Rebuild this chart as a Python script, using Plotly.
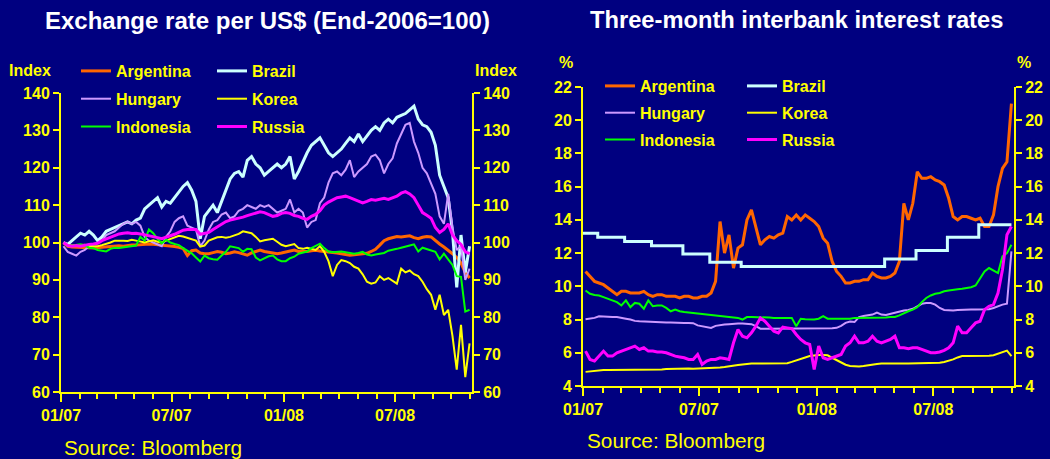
"""Exchange rates and interbank rates, 2007-2008 (navy slide theme)."""
import pandas as pd
import plotly.graph_objects as go

W, H = 1050, 459

COLORS = {
    "bg": "#000080",
    "axis": "#FFFF00",
    "title": "#FFFFFF",
    "Argentina": "#FF6600",
    "Brazil": "#CCFFFF",
    "Hungary": "#CC99FF",
    "Korea": "#FFFF00",
    "Indonesia": "#00FF00",
    "Russia": "#FF00FF",
}
WIDTHS = {"Argentina": 3, "Brazil": 3, "Hungary": 2, "Korea": 2, "Indonesia": 2, "Russia": 3}
FONT = "Liberation Sans, Arial, sans-serif"

# weekly observation dates (Fridays)
week_dates = pd.date_range("2007-01-05", periods=96, freq="7D")

# ---- exchange rate per US$, End-2006 = 100 ----
fx_argentina = [
    100, 99, 98.8, 98.8, 98.8, 98.7, 98.6, 98.5, 98.6, 98.8, 98.9, 99,
    99, 99.1, 99, 99.2, 99.3, 99.3, 99.4, 99.5, 99.6, 99.5,
    99.4, 99.2, 99.3, 99, 98.9, 98.7, 98.4, 96.5, 97.8, 98, 97.2, 97,
    97, 97.3, 97.6, 97.4, 97, 97.2, 97.5, 97.3, 97,
    96.6, 97.2, 97.6, 98, 97.6, 97.4, 97.2, 97, 97.2, 97.5, 97.8, 98, 97.6,
    97.5, 97.6, 97.8, 97.9, 97.7, 97.6, 97.5, 97.3, 97.2, 97, 96.8, 96.6, 96.7,
    96.8, 97, 97.1, 97.6, 98.2, 99.3, 100.5, 101, 101.4, 101.6, 101.5, 101.7, 101.8,
    101.3, 101, 101.4, 101.6, 101.5, 100.5, 99.6, 98.8, 98, 97, 96, 94.5, 92, 90.5,
]
fx_brazil = [
    100, 99.5, 100.5, 101.5, 102.5, 102, 103, 102, 100.5, 101.5, 103, 103.5,
    104, 104.5, 105, 105.5, 105, 106, 106.5, 109, 110, 111,
    112, 109.5, 111, 110.5, 112, 113.5, 115, 116, 114, 111, 101, 107,
    108.5, 110, 108, 111, 114, 117, 118.5, 119, 117.5,
    122, 123, 121, 120, 118, 119, 120, 121, 120, 121, 123, 117, 119,
    121.5, 124, 126, 127, 128, 126, 124, 123, 124, 125, 126.5, 128, 127,
    129, 127, 128.5, 130, 131, 130, 132, 133, 132, 133.5, 134, 134.5, 135.5,
    136.5, 133, 131.5, 131, 129.5, 126, 118, 115, 112, 103, 88, 102, 92, 99,
]
fx_hungary = [
    99, 97.5, 97, 96.5, 97.5, 98, 99, 99.5, 100, 100.5, 102, 102.5,
    103, 104, 105, 105.5, 105, 105.5, 104.5, 101.5, 100.5, 100,
    99.5, 99, 101.5, 103, 105.5, 106.5, 107, 104.5, 104, 103.5, 99, 100.5,
    103.5, 105.5, 106, 107.5, 108, 106.5, 107, 108.5, 109,
    110, 109.5, 109, 110, 109.5, 110, 109, 108, 108.5, 109, 111.5, 108, 109,
    108, 104, 105.5, 106, 110.5, 112, 116, 118.5, 119, 118, 119.5, 122, 117.5,
    119, 120, 121, 123, 123.5, 122, 118.5, 121, 122.5, 126.5, 129, 131.5, 132,
    127, 124, 120, 118.5, 115.5, 113, 107, 105, 113, 104, 98, 99, 90, 93,
]
fx_korea = [
    100, 99.3, 99.2, 99.3, 99.2, 99.4, 99, 98.9, 99, 99.3, 99.6, 100,
    100.5, 100.6, 100.5, 100.4, 100.7, 100.5, 100.2, 100, 100.3, 100.6,
    100.2, 100, 100.5, 101, 101.3, 101.8, 101.6, 101.2, 100.8, 100.5, 98.9, 99.2,
    100.5, 101, 101.4, 101.5, 101.3, 101.5, 101.8, 102.3, 103,
    102.8, 102.5, 101.5, 100.3, 100.6, 100.8, 101, 100.2, 99.4, 99, 99.3, 99.6, 98.5,
    98.3, 98.6, 98.2, 98, 99, 97.5, 95, 91, 94, 95.3, 95, 94.5, 93.5,
    93, 91.5, 89.5, 89, 89.3, 91, 90, 90.5, 89.8, 89, 93, 92, 92.5,
    91.5, 91, 89.5, 87.5, 86, 82, 86, 80.6, 82, 75, 66, 78, 64, 73,
]
fx_indonesia = [
    100, 99, 99.2, 99.4, 99.5, 99.2, 98.6, 98.5, 98, 97.8, 97.6, 98.3,
    98.6, 98.5, 98.7, 99, 99, 99.2, 101.5, 100.5, 103.5, 102.5,
    101, 99.8, 100.8, 100, 99.6, 99.3, 98.5, 97.8, 97.1, 96, 94.9, 96.5,
    95.8, 95.5, 95.4, 96.5, 97.5, 99, 98.7, 98.5, 97.5,
    98.3, 98.2, 96, 95.2, 95.8, 96.3, 96.5, 95.5, 95, 95, 95.8, 96.2, 97,
    97.3, 97.6, 98.5, 99, 99.7, 98.5, 97.6, 97.4, 97.5, 97.6, 97.4, 97.3, 97,
    97.2, 97.5, 96.8, 96.5, 96.8, 97, 97.2, 97.8, 98, 98.3, 98.6, 99, 99.2,
    99.5, 97.6, 98.6, 98.3, 98, 97.5, 95.5, 97, 95.5, 94, 91, 90.8, 81.5, 82,
]
fx_russia = [
    100, 99.2, 99, 99.2, 99, 99.3, 99.5, 99.6, 99.8, 100.5, 101, 101.5,
    102, 102.3, 102.5, 102.6, 102.4, 102.5, 102.3, 102, 101.8, 101.5,
    101.3, 101, 101.3, 101.8, 102.2, 102.8, 103.3, 103.5, 103.4, 103.5, 102.2, 102.4,
    102.7, 103.5, 104.2, 105, 105.6, 106, 106.2, 106.5, 106.8,
    107.2, 107.5, 107.8, 108.2, 108, 107.5, 107, 107.2, 107.8, 108, 107.8, 107.2, 107,
    106.5, 106.2, 107, 107.5, 108.5, 110, 110.8, 111.3, 112, 112.2, 112.4, 112, 111.5,
    111, 110.6, 111, 111.5, 111.3, 111.6, 111.8, 111.5, 112, 112.4, 113.2, 113.6, 113,
    112, 110, 108, 107.3, 106.5, 104, 102.7, 103.5, 105, 102, 100.5, 99.5, 97.5, 97,
]

# ---- three-month interbank rates, % ----
ir_argentina = [
    10.9, 10.6, 10.3, 10.2, 10.1, 9.9, 9.7, 9.5, 9.7, 9.7, 9.6, 9.6,
    9.6, 9.7, 9.5, 9.4, 9.5, 9.5, 9.4, 9.4, 9.4, 9.3,
    9.4, 9.4, 9.3, 9.3, 9.4, 9.4, 9.6, 10.3, 13.9, 12.0, 13.1, 11.1,
    12.3, 12.5, 14.0, 14.6, 13.6, 12.5, 12.8, 13.0, 12.9,
    13.1, 13.2, 14.2, 14.0, 14.3, 14.0, 14.3, 14.1, 13.9, 13.6, 12.9, 12.6, 11.5,
    10.9, 10.6, 10.2, 10.2, 10.3, 10.3, 10.4, 10.4, 10.8, 10.6, 10.5, 10.5, 10.6,
    10.8, 11.5, 15.0, 14.0, 15.0, 16.9, 16.5, 16.5, 16.6, 16.4, 16.3, 16.1, 15.3,
    14.2, 14.0, 14.2, 14.2, 14.1, 14.0, 14.1, 13.6, 13.6, 14.3, 16.0, 17.1, 17.5, 21.0,
]
# Brazil moves in steps at policy-meeting dates
ir_brazil_dates = [
    "2007-01-01", "2007-01-24", "2007-03-07", "2007-04-18", "2007-06-06",
    "2007-07-18", "2007-09-05", "2008-04-16", "2008-06-04", "2008-07-23",
    "2008-09-10", "2008-10-31",
]
ir_brazil = [13.2, 12.95, 12.7, 12.45, 11.95, 11.45, 11.2, 11.65, 12.15, 12.95, 13.7, 13.7]
ir_hungary = [
    8.02, 8.05, 8.1, 8.2, 8.17, 8.15, 8.15, 8.15, 8.12, 8.05, 8.0, 7.92,
    7.9, 7.88, 7.86, 7.85, 7.84, 7.84, 7.82, 7.82, 7.8, 7.8,
    7.8, 7.8, 7.78, 7.65, 7.6, 7.52, 7.5, 7.62, 7.68, 7.7, 7.72, 7.75,
    7.76, 7.76, 7.75, 7.72, 7.6, 7.45, 7.44, 7.44, 7.45,
    7.45, 7.46, 7.47, 7.48, 7.48, 7.48, 7.48, 7.48, 7.48, 7.48, 7.48, 7.48, 7.48,
    7.5, 7.62, 7.8, 7.88, 7.85, 8.15, 8.22, 8.25, 8.3, 8.42, 8.3, 8.28, 8.35,
    8.45, 8.5, 8.55, 8.58, 8.65, 8.8, 8.95, 9.0, 9.0, 8.9, 8.7, 8.58, 8.55,
    8.55, 8.58, 8.6, 8.6, 8.6, 8.6, 8.6, 8.62, 8.62, 8.7, 8.8, 8.9, 8.95, 12.1,
]
ir_korea = [
    4.85, 4.88, 4.92, 4.95, 4.96, 4.96, 4.96, 4.96, 4.96, 4.97, 4.97, 4.97,
    4.97, 4.97, 4.97, 4.98, 4.98, 5.0, 5.02, 5.03, 5.05, 5.05,
    5.05, 5.05, 5.04, 5.05, 5.05, 5.06, 5.06, 5.08, 5.12, 5.15, 5.2, 5.22,
    5.26, 5.3, 5.34, 5.35, 5.35, 5.35, 5.35, 5.35, 5.35,
    5.36, 5.36, 5.37, 5.45, 5.55, 5.65, 5.72, 5.8, 5.85, 5.87, 5.87, 5.85, 5.7,
    5.55, 5.4, 5.28, 5.2, 5.18, 5.18, 5.2, 5.25, 5.3, 5.33, 5.35, 5.36, 5.36,
    5.36, 5.36, 5.36, 5.36, 5.37, 5.37, 5.37, 5.38, 5.38, 5.38, 5.4, 5.45, 5.52,
    5.6, 5.72, 5.8, 5.8, 5.8, 5.8, 5.8, 5.8, 5.82, 5.85, 5.95, 6.05, 6.13, 5.8,
]
ir_indonesia = [
    9.75, 9.55, 9.48, 9.45, 9.35, 9.25, 9.15, 9.05, 8.85, 9.15, 8.75, 9.0,
    8.95, 8.65, 9.15, 8.8, 8.85, 8.85, 8.7, 8.5, 8.6, 8.5,
    8.45, 8.42, 8.38, 8.35, 8.3, 8.3, 8.25, 8.22, 8.2, 8.18, 8.15, 8.12,
    8.1, 8.0, 8.15, 8.15, 8.15, 8.15, 8.15, 8.12, 8.1,
    8.1, 8.1, 8.1, 8.1, 7.6, 8.05, 8.02, 8.0, 8.0, 8.05, 8.2, 8.05, 8.05,
    8.05, 8.05, 8.05, 8.05, 8.1, 8.1, 8.1, 8.1, 8.1, 8.1, 8.1, 8.12, 8.15,
    8.15, 8.25, 8.4, 8.5, 8.6, 8.75, 9.05, 9.3, 9.45, 9.55, 9.6, 9.7, 9.75,
    9.8, 9.82, 9.85, 9.9, 9.95, 10.05, 10.5, 10.9, 11.1, 10.95, 10.8, 11.8, 12.0, 12.5,
]
ir_russia = [
    6.1, 5.6, 5.5, 5.8, 6.1, 5.8, 5.8, 6.0, 6.1, 6.2, 6.3, 6.4,
    6.2, 6.3, 6.1, 6.1, 6.05, 6.05, 6.0, 5.9, 5.8, 5.75,
    5.7, 5.6, 5.6, 5.9, 5.3, 5.5, 5.6, 5.6, 5.7, 5.65, 5.6, 6.6,
    7.4, 7.0, 6.9, 7.2, 7.6, 8.1, 7.9, 7.6, 7.3,
    7.2, 7.55, 7.5, 7.45, 7.1, 6.8, 6.6, 6.5, 5.0, 6.4, 5.7, 5.6, 5.7,
    5.8, 5.9, 6.4, 6.6, 7.0, 6.6, 6.6, 6.7, 7.0, 6.7, 6.6, 6.7, 6.8,
    7.0, 6.3, 6.3, 6.25, 6.3, 6.3, 6.2, 6.1, 6.0, 6.0, 6.05, 6.15, 6.3,
    6.6, 7.6, 7.2, 7.2, 7.5, 7.8, 7.9, 8.6, 8.8, 8.9, 9.6, 11.0, 13.1, 13.6,
]

fx_series = {
    "Argentina": fx_argentina, "Brazil": fx_brazil, "Hungary": fx_hungary,
    "Korea": fx_korea, "Indonesia": fx_indonesia, "Russia": fx_russia,
}
ir_series = {
    "Argentina": (week_dates, ir_argentina),
    "Brazil": (pd.to_datetime(ir_brazil_dates), ir_brazil),
    "Hungary": (week_dates, ir_hungary),
    "Korea": (week_dates, ir_korea),
    "Indonesia": (week_dates, ir_indonesia),
    "Russia": (week_dates, ir_russia),
}
# legend columns: left column / right column
LEFT_COL = ["Argentina", "Hungary", "Indonesia"]


def px(x):
    return x / W


def py(y):
    return 1 - y / H


fig = go.Figure()

# the last series of each panel goes on the mirrored right axis so it gets drawn
for name, vals in fx_series.items():
    fig.add_trace(go.Scatter(
        x=week_dates, y=vals, name=name, mode="lines",
        line=dict(color=COLORS[name], width=WIDTHS[name]),
        xaxis="x", yaxis="y2" if name == "Russia" else "y",
        legend="legend" if name in LEFT_COL else "legend2",
        legendgroup="fx_" + name,
    ))

for name, (dates, vals) in ir_series.items():
    fig.add_trace(go.Scatter(
        x=dates, y=vals, name=name, mode="lines",
        line=dict(color=COLORS[name], width=WIDTHS[name],
                  shape="hv" if name == "Brazil" else "linear"),
        xaxis="x2", yaxis="y4" if name == "Russia" else "y3",
        legend="legend3" if name in LEFT_COL else "legend4",
        legendgroup="ir_" + name,
    ))

tickfont = dict(family=FONT, size=16, color=COLORS["axis"], weight="bold")
x_common = dict(
    type="date", range=["2007-01-01", "2008-11-04"],
    tick0="2007-01-01", dtick="M6", tickformat="%m/%y",
    showline=True, linecolor=COLORS["axis"], linewidth=2,
    ticks="outside", ticklen=8, tickwidth=2, tickcolor=COLORS["axis"],
    tickfont=tickfont, showgrid=False, zeroline=False, automargin=False,
    minor=dict(dtick="M1", ticks="outside", ticklen=5, tickwidth=2,
               tickcolor=COLORS["axis"], showgrid=False),
)
y_common = dict(
    showline=True, linecolor=COLORS["axis"], linewidth=2,
    ticks="outside", ticklen=6, tickwidth=2, tickcolor=COLORS["axis"],
    tickfont=tickfont, showgrid=False, zeroline=False, automargin=False,
)

legend_common = dict(
    bgcolor="rgba(0,0,0,0)", borderwidth=0, orientation="v",
    xanchor="left", yanchor="top", tracegroupgap=4,
    font=dict(family=FONT, size=16, color=COLORS["axis"], weight="bold"),
)

annotations = [
    dict(text="Exchange rate per US$ (End-2006=100)", x=px(267), y=py(20),
         font=dict(size=24, color=COLORS["title"], weight="bold")),
    dict(text="Three-month interbank interest rates", x=px(796), y=py(20),
         font=dict(size=23.7, color=COLORS["title"], weight="bold")),
    dict(text="Index", x=px(30), y=py(71)),
    dict(text="Index", x=px(496), y=py(71)),
    dict(text="%", x=px(566), y=py(62)),
    dict(text="%", x=px(1024), y=py(62)),
    dict(text="Source: Bloomberg", x=px(62), y=py(447), xanchor="left",
         font=dict(size=20.8, color=COLORS["axis"])),
    dict(text="Source: Bloomberg", x=px(585), y=py(440), xanchor="left",
         font=dict(size=20.8, color=COLORS["axis"])),
]
for a in annotations:
    a.setdefault("xanchor", "center")
    a.setdefault("font", dict(size=16, color=COLORS["axis"], weight="bold"))
    a.update(xref="paper", yref="paper", yanchor="middle", showarrow=False)
    a["font"]["family"] = FONT

fig.update_layout(
    width=W, height=H,
    paper_bgcolor=COLORS["bg"], plot_bgcolor=COLORS["bg"],
    margin=dict(l=0, r=0, t=0, b=0, autoexpand=False),
    font=dict(family=FONT, color=COLORS["axis"]),
    showlegend=True,
    xaxis=dict(domain=[px(61), px(472)], anchor="y", **x_common),
    yaxis=dict(domain=[py(392), py(93)], anchor="x", range=[60, 140], dtick=10, **y_common),
    yaxis2=dict(overlaying="y", anchor="x", side="right", range=[60, 140], dtick=10, **y_common),
    xaxis2=dict(domain=[px(583), px(1014)], anchor="y3", **x_common),
    yaxis3=dict(domain=[py(386), py(87)], anchor="x2", range=[4, 22], dtick=2, **y_common),
    yaxis4=dict(overlaying="y3", anchor="x2", side="right", range=[4, 22], dtick=2, **y_common),
    legend=dict(x=px(76), y=py(54), **legend_common),
    legend2=dict(x=px(212), y=py(54), **legend_common),
    legend3=dict(x=px(600), y=py(69), **{**legend_common, "tracegroupgap": 3}),
    legend4=dict(x=px(742), y=py(69), **{**legend_common, "tracegroupgap": 3}),
    annotations=annotations,
)

# drop the browser's default page margin so the figure fills the window
fig.write_html("out.html", config={"displayModeBar": False},
               post_script="document.body.style.margin='0';")
